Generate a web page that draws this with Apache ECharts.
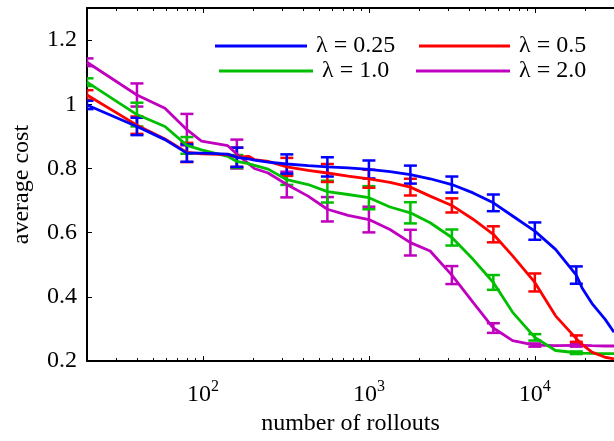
<!DOCTYPE html>
<html><head><meta charset="utf-8">
<script src="https://cdn.jsdelivr.net/npm/echarts@6/dist/echarts.min.js"></script>
<style>html,body{margin:0;padding:0;background:#fff}#c{width:614px;height:441px}</style>
</head><body><div id="c"></div>
<script>
const seriesNames = ['λ = 0.25', 'λ = 0.5', 'λ = 1.0', 'λ = 2.0'];
const lineX = [20, 40, 59, 80, 98, 141, 160, 188, 204, 247, 320, 430, 562, 749, 1000, 1340, 1778, 2339, 3162, 4244, 5623, 7350, 10000, 13330, 17783, 19270, 22070, 26540, 30000];
const blueY = [0.998, 0.931, 0.890, 0.848, 0.848, 0.845, 0.835, 0.830, 0.826, 0.820, 0.814, 0.809, 0.805, 0.802, 0.797, 0.790, 0.781, 0.768, 0.750, 0.724, 0.693, 0.652, 0.605, 0.548, 0.468, 0.428, 0.380, 0.330, 0.290];
const redY = [1.029, 0.935, 0.892, 0.850, 0.846, 0.843, 0.835, 0.838, 0.828, 0.822, 0.805, 0.794, 0.786, 0.776, 0.768, 0.757, 0.742, 0.714, 0.685, 0.642, 0.595, 0.528, 0.445, 0.341, 0.270, 0.252, 0.228, 0.212, 0.207];
const greenY = [1.069, 0.968, 0.931, 0.872, 0.858, 0.838, 0.822, 0.815, 0.810, 0.798, 0.765, 0.750, 0.728, 0.719, 0.709, 0.680, 0.662, 0.631, 0.585, 0.517, 0.445, 0.352, 0.274, 0.233, 0.226, 0.225, 0.224, 0.223, 0.223];
const magentaY = [1.131, 1.029, 0.988, 0.921, 0.885, 0.871, 0.845, 0.815, 0.800, 0.786, 0.750, 0.714, 0.673, 0.654, 0.641, 0.610, 0.569, 0.543, 0.468, 0.383, 0.303, 0.264, 0.250, 0.248, 0.249, 0.249, 0.248, 0.247, 0.247];
const errX = [20, 40, 80, 160, 320, 562, 1000, 1778, 3162, 5623, 10000, 17783];
const blueErr = [0.013, 0.027, 0.027, 0.030, 0.030, 0.030, 0.028, 0.028, 0.025, 0.026, 0.027, 0.027];
const redErr = [0.015, 0.027, 0.030, 0.030, 0.028, 0.028, 0.028, 0.026, 0.022, 0.025, 0.028, 0.010];
const greenErr = [0.012, 0.037, 0.026, 0.020, 0.016, 0.034, 0.036, 0.033, 0.025, 0.023, 0.010, 0.004];
const magentaErr = [0.012, 0.036, 0.049, 0.045, 0.040, 0.038, 0.040, 0.040, 0.028, 0.015, 0.005, 0.004];
const xMajorTicks = [100, 1000, 10000];
const xMinorTicks = [30, 40, 50, 60, 70, 80, 90, 200, 300, 400, 500, 600, 700, 800, 900, 2000, 3000, 4000, 5000, 6000, 7000, 8000, 9000, 20000];
const yTicks = [0.2, 0.4, 0.6, 0.8, 1, 1.2];

const colors = ['#0000ff', '#ff0000', '#00bf00', '#bf00bf'];
const ys = [blueY, redY, greenY, magentaY];
const errs = [blueErr, redErr, greenErr, magentaErr];
const FONT = '"Liberation Serif", serif';
const serif24 = { fontFamily: FONT, fontSize: 24, color: '#000' };

function errData(k) {
  return errX.map((x, i) => [x, ys[k][lineX.indexOf(x)], errs[k][i]]);
}
function errRender(color) {
  return function (params, api) {
    const x = api.value(0), y = api.value(1), e = api.value(2);
    const p1 = api.coord([x, y + e]);
    const p2 = api.coord([x, y - e]);
    const w = 6.5;
    const st = { stroke: color, lineWidth: 2.5, fill: null };
    return { type: 'group', children: [
      { type: 'line', shape: { x1: p1[0], y1: p1[1], x2: p2[0], y2: p2[1] }, style: st },
      { type: 'line', shape: { x1: p1[0] - w, y1: p1[1], x2: p1[0] + w, y2: p1[1] }, style: st },
      { type: 'line', shape: { x1: p2[0] - w, y1: p2[1], x2: p2[0] + w, y2: p2[1] }, style: st }
    ]};
  };
}

const series = [];
const order = [3, 2, 1, 0];
order.forEach(k => {
  series.push({
    name: seriesNames[k], type: 'line', xAxisIndex: 0, yAxisIndex: 0,
    data: lineX.map((x, i) => [x, ys[k][i]]),
    showSymbol: false, symbol: 'none', clip: true,
    lineStyle: { color: colors[k], width: 2.8 }, itemStyle: { color: colors[k] },
    z: 3, animation: false
  });
  series.push({
    name: seriesNames[k], type: 'custom', xAxisIndex: 0, yAxisIndex: 0,
    data: errData(k), renderItem: errRender(colors[k]), clip: true,
    encode: { x: 0, y: 1 }, z: 3, animation: false
  });
});

const legendPos = [[215, 34], [419, 34], [219, 59], [416, 59]];
const legendW = [92, 91, 94, 94];
const legends = seriesNames.map((n, k) => ({
  data: [n], left: legendPos[k][0], top: legendPos[k][1], padding: 0,
  icon: 'rect', itemWidth: legendW[k], itemHeight: 3,
  selectedMode: false,
  formatter: name => '{t|' + name + '}',
  textStyle: { fontFamily: FONT, fontSize: 24, color: '#000', padding: [0, 0, 0, 4],
    rich: { t: serif24 } }
}));

const baseX = {
  type: 'log', logBase: 10, min: 20, max: 30000, gridIndex: 0,
  splitLine: { show: false }, minorTick: { show: false }
};

const option = {
  animation: false,
  backgroundColor: '#fff',
  textStyle: { fontFamily: FONT, color: '#000' },
  grid: { left: 87, right: -5, top: 8, bottom: 79, containLabel: false },
  legend: legends,
  xAxis: [
    Object.assign({}, baseX, {
      position: 'bottom',
      name: 'number of rollouts', nameLocation: 'middle', nameGap: 50,
      nameTextStyle: serif24,
      axisLine: { show: true, lineStyle: { color: '#000', width: 2 } },
      axisTick: { show: true, inside: true, length: 5, customValues: xMajorTicks, lineStyle: { color: '#000', width: 1 } },
      axisLabel: {
        customValues: xMajorTicks, margin: 18,
        formatter: v => '{b|10}{s|' + Math.round(Math.log10(v)) + '}',
        rich: {
          b: { fontFamily: FONT, fontSize: 24, color: '#000', lineHeight: 28, verticalAlign: 'bottom' },
          s: { fontFamily: FONT, fontSize: 16, color: '#000', lineHeight: 28, verticalAlign: 'top' }
        }
      }
    }),
    Object.assign({}, baseX, {
      position: 'bottom',
      axisLine: { show: false },
      axisTick: { show: true, inside: true, length: 3, customValues: xMinorTicks, lineStyle: { color: '#000', width: 1 } },
      axisLabel: { show: false }
    }),
    Object.assign({}, baseX, {
      position: 'top',
      axisLine: { show: true, lineStyle: { color: '#000', width: 2 } },
      axisTick: { show: true, inside: true, length: 5, customValues: xMajorTicks, lineStyle: { color: '#000', width: 1 } },
      axisLabel: { show: false }
    }),
    Object.assign({}, baseX, {
      position: 'top',
      axisLine: { show: false },
      axisTick: { show: true, inside: true, length: 3, customValues: xMinorTicks, lineStyle: { color: '#000', width: 1 } },
      axisLabel: { show: false }
    })
  ],
  yAxis: [{
    type: 'value', min: 0.2, max: 1.3, interval: 0.2,
    name: 'average cost', nameLocation: 'middle', nameGap: 53, nameRotate: 90,
    nameTextStyle: serif24,
    axisLine: { show: true, lineStyle: { color: '#000', width: 2 } },
    axisTick: { show: true, inside: true, length: 5, customValues: yTicks, lineStyle: { color: '#000', width: 1 } },
    axisLabel: {
      customValues: yTicks, margin: 10,
      fontFamily: FONT, fontSize: 24, color: '#000',
      formatter: v => '{t|' + String(Math.round(v * 10) / 10) + '}',
      rich: { t: serif24 }
    },
    splitLine: { show: false }
  }],
  series: series
};

const chart = echarts.init(document.getElementById('c'), null, { renderer: 'canvas' });
chart.setOption(option);
</script>
</body></html>
